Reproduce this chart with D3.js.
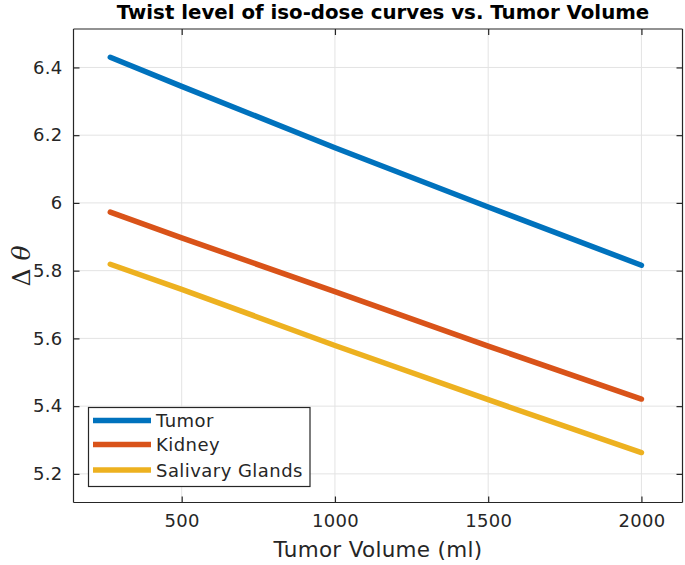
<!DOCTYPE html>
<html><head><meta charset="utf-8">
<script src="https://cdn.jsdelivr.net/npm/d3@7"></script>
<style>body{margin:0;background:#fff}</style>
</head><body><svg id="c" width="685" height="565"></svg>
<script>
const volumes = [267, 500, 1000, 1500, 2000];
const tumor = [6.430, 6.344, 6.163, 5.988, 5.816];
const kidney = [5.973, 5.897, 5.738, 5.577, 5.421];
const salivary = [5.819, 5.745, 5.579, 5.419, 5.263];
const seriesNames = ["Tumor", "Kidney", "Salivary Glands"];
const seriesColors = ["#0072BD", "#D95319", "#EDB120"];
const xTicks = [500, 1000, 1500, 2000];
const yTicks = [5.2, 5.4, 5.6, 5.8, 6, 6.2, 6.4];
const titleText = "Twist level of iso-dose curves vs. Tumor Volume";
const xLabel = "Tumor Volume (ml)";

const svg = d3.select("#c");
const L = 73.5, R = 682.5, T = 29, B = 502.5;
const x = d3.scaleLinear().domain([147, 2134]).range([L, R]);
const y = d3.scaleLinear().domain([5.1155, 6.5135]).range([B, T]);
const font = "DejaVu Sans, sans-serif";
const ink = "#262626";

// grid
svg.append("g").selectAll("line").data(xTicks).join("line")
  .attr("x1", d => x(d)).attr("x2", d => x(d)).attr("y1", T).attr("y2", B)
  .attr("stroke", "#e3e3e3").attr("stroke-width", 1);
svg.append("g").selectAll("line").data(yTicks).join("line")
  .attr("y1", d => y(d)).attr("y2", d => y(d)).attr("x1", L).attr("x2", R)
  .attr("stroke", "#e3e3e3").attr("stroke-width", 1);

// lines
const allSeries = [tumor, kidney, salivary];
const line = d3.line().x((d, i) => x(volumes[i])).y(d => y(d));
allSeries.forEach((s, k) => {
  svg.append("path").datum(s).attr("d", line).attr("fill", "none")
    .attr("stroke", seriesColors[k]).attr("stroke-width", 5.5).attr("stroke-linecap", "round");
});

// axes
const xAxisB = d3.axisBottom(x).tickValues(xTicks).tickSize(-6).tickPadding(12).tickFormat(d3.format("d"));
const xAxisT = d3.axisTop(x).tickValues(xTicks).tickSize(-6).tickFormat("");
const yAxisL = d3.axisLeft(y).tickValues(yTicks).tickSize(-6).tickPadding(11).tickFormat(d => d3.format("")(d));
const yAxisR = d3.axisRight(y).tickValues(yTicks).tickSize(-6).tickFormat("");
function style(g) {
  g.selectAll(".domain").attr("stroke", ink).attr("stroke-width", 1.2);
  g.selectAll(".tick line").attr("stroke", ink).attr("stroke-width", 1.2);
  g.selectAll("text").attr("fill", ink).attr("font-family", font).attr("font-size", 18).attr("letter-spacing", 0.3);
}
svg.append("g").attr("transform", `translate(0,${B})`).call(xAxisB).call(style)
  .select(".domain").attr("d", `M${L},0H${R}`);
svg.append("g").attr("transform", `translate(0,${T})`).call(xAxisT).call(style)
  .select(".domain").attr("d", `M${L},0H${R}`);
svg.append("g").attr("transform", `translate(${L},0)`).call(yAxisL).call(style)
  .select(".domain").attr("d", `M0,${T}V${B}`);
svg.append("g").attr("transform", `translate(${R},0)`).call(yAxisR).call(style)
  .select(".domain").attr("d", `M0,${T}V${B}`);

// title
svg.append("text").attr("x", 383).attr("y", 19).attr("text-anchor", "middle")
  .attr("font-family", font).attr("font-weight", "bold").attr("font-size", 19.8)
  .attr("fill", "#000").text(titleText);

// x label
svg.append("text").attr("x", 378).attr("y", 557).attr("text-anchor", "middle")
  .attr("font-family", font).attr("font-size", 21.5).attr("letter-spacing", 0.3).attr("fill", ink).text(xLabel);

// y label
const yl = svg.append("text").attr("transform", "translate(30,266) rotate(-90)")
  .attr("text-anchor", "middle").attr("font-family", "DejaVu Serif, serif").attr("font-size", 25).attr("fill", ink);
yl.append("tspan").text("Δ ");
yl.append("tspan").attr("font-style", "italic").text("θ");

// legend
const lg = svg.append("g");
lg.append("rect").attr("x", 88.5).attr("y", 407.5).attr("width", 221.5).attr("height", 79)
  .attr("fill", "#fff").attr("stroke", ink).attr("stroke-width", 1.2);
const rowY = [420.5, 444.5, 470];
seriesNames.forEach((n, k) => {
  lg.append("line").attr("x1", 93).attr("x2", 151).attr("y1", rowY[k]).attr("y2", rowY[k])
    .attr("stroke", seriesColors[k]).attr("stroke-width", 5.5);
  lg.append("text").attr("x", 156).attr("y", rowY[k] + 6.5).attr("font-family", font)
    .attr("font-size", 18).attr("letter-spacing", 0.45).attr("fill", ink).text(n);
});
</script></body></html>
